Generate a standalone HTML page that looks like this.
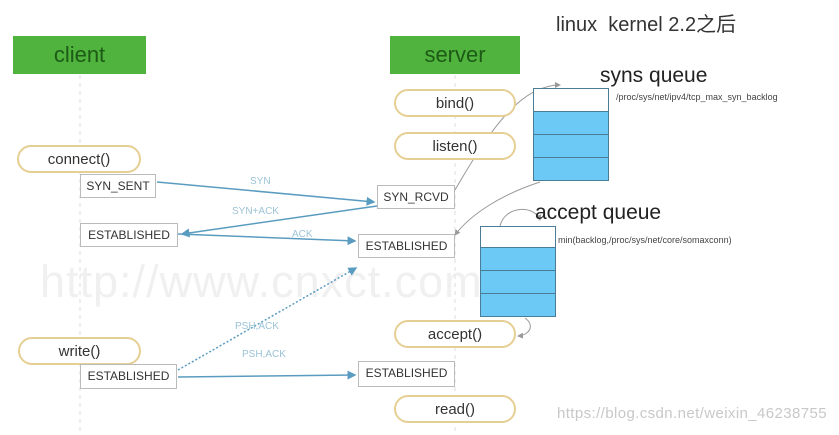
<html><head><style>
body{margin:0;width:839px;height:435px;background:#fff;position:relative;overflow:hidden;font-family:"Liberation Sans","Noto Sans CJK SC",sans-serif}
.a{position:absolute}
.g{background:#4fb33d;color:#1d5a16;font-size:22px;text-align:center;line-height:38px}
.p{border:2px solid #e6cf94;border-radius:15px;box-sizing:border-box;text-align:center;font-size:15px;color:#333;line-height:25px;background:#fff}
.s{border:1px solid #bbb;box-sizing:border-box;font-size:12px;color:#333;line-height:22px;text-align:center;background:#fff}
.q{background:#6cc8f4;border:1px solid #4a7c96;box-sizing:border-box}
</style></head><body>
<div class="a" style="left:40px;top:256px;font-size:45px;color:#f0f0f0;letter-spacing:1px">http://www.cnxct.com</div>
<svg class="a" style="left:0;top:0" width="839" height="435">
<line x1="80" y1="75" x2="80" y2="435" stroke="#ddd" stroke-dasharray="4,4"/>
<line x1="455" y1="75" x2="455" y2="435" stroke="#ddd" stroke-dasharray="4,4"/>
<defs><marker id="m" markerWidth="6" markerHeight="6" refX="5" refY="3" orient="auto"><path d="M0,0L6,3L0,6z" fill="#5a9cc0"/></marker>
<marker id="n" markerWidth="6" markerHeight="6" refX="5" refY="3" orient="auto"><path d="M0,0L6,3L0,6z" fill="#999"/></marker></defs>
<g stroke="#5a9cc0" stroke-width="1.5" fill="none">
<line x1="157" y1="182" x2="374" y2="202" marker-end="url(#m)"/>
<line x1="377" y1="206" x2="182" y2="234" marker-end="url(#m)"/>
<line x1="178" y1="234" x2="355" y2="241" marker-end="url(#m)"/>
<line x1="178" y1="377" x2="355" y2="375" marker-end="url(#m)"/>
<line x1="178" y1="370" x2="356" y2="268" stroke-dasharray="2,2" marker-end="url(#m)"/>
</g>
<g stroke="#999" stroke-width="1" fill="none">
<path d="M455,190 C490,130 520,85 560,85" marker-end="url(#n)"/>
<path d="M540,182 C500,195 470,215 455,235" marker-end="url(#n)"/>
<path d="M500,226 C505,205 535,205 540,220" marker-end="url(#n)"/>
<path d="M525,318 C535,325 530,335 518,336" marker-end="url(#n)"/>
</g>
<g font-size="10" fill="#9cc3d6" font-family="Liberation Sans,sans-serif">
<text x="250" y="184">SYN</text><text x="232" y="214">SYN+ACK</text><text x="292" y="237">ACK</text>
<text x="235" y="329">PSH,ACK</text><text x="242" y="357">PSH,ACK</text></g>
</svg>
<div class="a g" style="left:13px;top:36px;width:133px">client</div>
<div class="a g" style="left:390px;top:36px;width:130px">server</div>
<div class="a" style="left:556px;top:8px;font-size:20px;color:#333">linux&nbsp; kernel 2.2之后</div>
<div class="a p" style="left:394px;top:89px;width:122px;height:28px">bind()</div>
<div class="a p" style="left:394px;top:132px;width:122px;height:28px">listen()</div>
<div class="a p" style="left:17px;top:145px;width:124px;height:28px">connect()</div>
<div class="a p" style="left:394px;top:320px;width:122px;height:28px">accept()</div>
<div class="a p" style="left:18px;top:337px;width:123px;height:28px">write()</div>
<div class="a p" style="left:394px;top:395px;width:122px;height:28px">read()</div>
<div class="a s" style="left:80px;top:174px;width:76px;height:24px">SYN_SENT</div>
<div class="a s" style="left:377px;top:185px;width:78px;height:24px">SYN_RCVD</div>
<div class="a s" style="left:80px;top:223px;width:98px;height:24px">ESTABLISHED</div>
<div class="a s" style="left:358px;top:234px;width:97px;height:24px">ESTABLISHED</div>
<div class="a s" style="left:80px;top:364px;width:97px;height:25px">ESTABLISHED</div>
<div class="a s" style="left:358px;top:361px;width:97px;height:26px">ESTABLISHED</div>
<div class="a" style="left:600px;top:64px;font-size:21px;color:#222">syns queue</div>
<div class="a" style="left:616px;top:92px;font-size:9px;color:#444">/proc/sys/net/ipv4/tcp_max_syn_backlog</div>
<div class="a q" style="left:533px;top:88px;width:76px;height:24px;background:#fff"></div>
<div class="a q" style="left:533px;top:111px;width:76px;height:24px"></div>
<div class="a q" style="left:533px;top:134px;width:76px;height:24px"></div>
<div class="a q" style="left:533px;top:157px;width:76px;height:24px"></div>
<div class="a" style="left:535px;top:201px;font-size:21px;color:#222">accept queue</div>
<div class="a" style="left:558px;top:235px;font-size:9px;color:#444">min(backlog,/proc/sys/net/core/somaxconn)</div>
<div class="a q" style="left:480px;top:226px;width:76px;height:22px;background:#fff"></div>
<div class="a q" style="left:480px;top:247px;width:76px;height:24px"></div>
<div class="a q" style="left:480px;top:270px;width:76px;height:24px"></div>
<div class="a q" style="left:480px;top:293px;width:76px;height:24px"></div>
<div class="a" style="left:557px;top:405px;font-size:15px;color:#c8c8c8;letter-spacing:0.4px">https://blog.csdn.net/weixin_46238755</div>
</body></html>
